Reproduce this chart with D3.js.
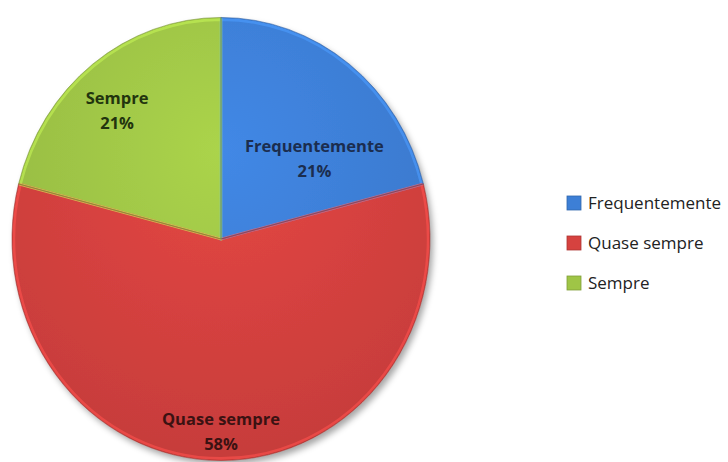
<!DOCTYPE html>
<html>
<head>
<meta charset="utf-8">
<script src="https://cdn.jsdelivr.net/npm/d3@7"></script>
<style>
  body { margin: 0; background: #fff; }
  svg { display: block; }
</style>
</head>
<body>
<svg id="chart" width="728" height="462"></svg>
<script>
// data
const categories = ["Frequentemente", "Quase sempre", "Sempre"];
const values = [21, 58, 21];
const colors = ["#3d7fd6", "#d6423f", "#9fc546"];
const textColors = ["#1b2d4f", "#3b1212", "#22340e"];

const svg = d3.select("#chart");
const cx = 221, cy = 239, R = 209, sy = 1.06;

const defs = svg.append("defs");
const shadow = defs.append("filter").attr("id", "shadow")
  .attr("x", "-10%").attr("y", "-10%").attr("width", "125%").attr("height", "125%");
shadow.append("feDropShadow").attr("dx", 3).attr("dy", 4).attr("stdDeviation", 3)
  .attr("flood-color", "#000").attr("flood-opacity", 0.35);

colors.forEach((c, i) => {
  const gr = defs.append("radialGradient").attr("id", "grad" + i)
    .attr("gradientUnits", "userSpaceOnUse")
    .attr("cx", 0).attr("cy", -R * 0.4).attr("r", R * 1.5);
  gr.append("stop").attr("offset", "0%").attr("stop-color", d3.color(c).brighter(0.2));
  gr.append("stop").attr("offset", "100%").attr("stop-color", d3.color(c).darker(0.25));
});

const pie = d3.pie().sort(null).value(d => d);
const arcs = pie(values);
const arc = d3.arc().innerRadius(0).outerRadius(R);

const g = svg.append("g")
  .attr("transform", `translate(${cx},${cy}) scale(1,${sy})`);

g.append("g").attr("filter", "url(#shadow)")
  .selectAll("path").data(arcs).join("path")
  .attr("d", arc)
  .attr("fill", (d, i) => `url(#grad${i})`);

// bevel highlight
g.selectAll("path.edge").data(arcs).join("path")
  .attr("class", "edge")
  .attr("d", d3.arc().innerRadius(0).outerRadius(R - 2))
  .attr("fill", "none")
  .attr("stroke", (d, i) => d3.color(colors[i]).brighter(0.6))
  .attr("stroke-width", 2.5)
  .attr("stroke-opacity", 0.6);

g.selectAll("path.line").data(arcs).join("path")
  .attr("class", "line")
  .attr("d", arc)
  .attr("fill", "none")
  .attr("stroke", (d, i) => d3.color(colors[i]).darker(0.8))
  .attr("stroke-width", 0.8)
  .attr("stroke-opacity", 0.7);

// labels
const labelR = [0.62, 0.87, 0.78];
const labelShift = [[14, 25], [0, -3], [-4, 5]];
const labels = svg.append("g").attr("font-family", "'Open Sans', sans-serif")
  .attr("font-weight", "bold").attr("font-size", 16.5).attr("text-anchor", "middle");
arcs.forEach((d, i) => {
  const [x, y] = d3.arc().innerRadius(R * labelR[i]).outerRadius(R * labelR[i]).centroid(d);
  const lx = cx + x + labelShift[i][0];
  const t = labels.append("text")
    .attr("x", lx)
    .attr("y", cy + y * sy + labelShift[i][1])
    .attr("fill", textColors[i]);
  t.append("tspan").attr("x", lx).attr("dy", "-0.2em").text(categories[i]);
  t.append("tspan").attr("x", lx).attr("dy", "1.5em")
    .text(Math.round(d.value / d3.sum(values) * 100) + "%");
});

// legend
const legend = svg.append("g").attr("transform", "translate(567,203)")
  .attr("font-family", "'Open Sans', sans-serif").attr("font-size", 17);
const item = legend.selectAll("g").data(categories).join("g")
  .attr("transform", (d, i) => `translate(0,${i * 40})`);
item.append("rect").attr("x", 0).attr("y", -7).attr("width", 14).attr("height", 14)
  .attr("fill", (d, i) => colors[i]).attr("stroke", (d, i) => d3.color(colors[i]).darker(0.6))
  .attr("stroke-width", 0.8);
item.append("text").attr("x", 21).attr("y", 0).attr("dy", "0.35em")
  .attr("fill", "#222").text(d => d);
</script>
</body>
</html>
